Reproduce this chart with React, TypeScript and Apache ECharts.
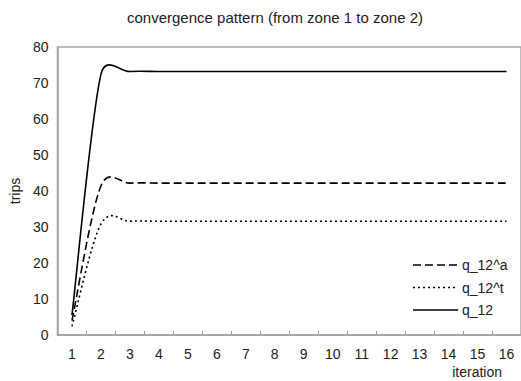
import React, { useEffect, useRef } from "react";
import * as echarts from "echarts";

const iterations = ["1","2","3","4","5","6","7","8","9","10","11","12","13","14","15","16"];
const qA = [4.0, 41.4, 42.2, 42.2, 42.2, 42.2, 42.2, 42.2, 42.2, 42.2, 42.2, 42.2, 42.2, 42.2, 42.2, 42.2];
const qT = [2.4, 30.8, 31.6, 31.6, 31.6, 31.6, 31.6, 31.6, 31.6, 31.6, 31.6, 31.6, 31.6, 31.6, 31.6, 31.6];
const q = [5.5, 72.4, 73.2, 73.2, 73.2, 73.2, 73.2, 73.2, 73.2, 73.2, 73.2, 73.2, 73.2, 73.2, 73.2, 73.2];
const seriesNames = ["q_12^a", "q_12^t", "q_12"];
const yTicks = { min: 0, max: 80, interval: 10 };

const FONT = "Liberation Sans";

// Excel-like smoothed path through points (Bezier, tangent limited by segment length)
function smoothPath(pts: number[][]): string {
  const n = pts.length;
  const tangent = (i: number) => {
    const p0 = pts[Math.max(0, i - 1)];
    const p2 = pts[Math.min(n - 1, i + 1)];
    return [p2[0] - p0[0], p2[1] - p0[1]];
  };
  let d = `M${pts[0][0]},${pts[0][1]}`;
  for (let i = 0; i < n - 1; i++) {
    const a = pts[i];
    const b = pts[i + 1];
    const seg = Math.hypot(b[0] - a[0], b[1] - a[1]);
    const ta = tangent(i);
    const tb = tangent(i + 1);
    const la = Math.hypot(ta[0], ta[1]) || 1;
    const lb = Math.hypot(tb[0], tb[1]) || 1;
    const fa = Math.min(1 / 6, (0.7 * seg) / la);
    const fb = Math.min(1 / 6, (0.7 * seg) / lb);
    const c1 = [a[0] + ta[0] * fa, a[1] + ta[1] * fa];
    const c2 = [b[0] - tb[0] * fb, b[1] - tb[1] * fb];
    d += ` C${c1[0]},${c1[1]} ${c2[0]},${c2[1]} ${b[0]},${b[1]}`;
  }
  return d;
}

function makeSeries(name: string, values: number[], dash: number[] | null) {
  return {
    name,
    type: "custom",
    coordinateSystem: "cartesian2d",
    data: values.map((v, i) => [i, v]),
    encode: { x: 0, y: 1 },
    clip: false,
    renderItem: (params: any, api: any) => {
      if (params.dataIndex !== 0) return null;
      const pts = values.map((v, i) => api.coord([i, v]));
      return {
        type: "path",
        shape: { pathData: smoothPath(pts) },
        style: {
          fill: "none",
          stroke: "#000",
          lineWidth: 1.6,
          lineDash: dash || undefined,
        },
      };
    },
  };
}

const legendStyles: (number[] | null)[] = [[8, 4], [2, 3], null];

export default function App() {
  const ref = useRef<HTMLDivElement>(null);
  useEffect(() => {
    if (!ref.current) return;
    const chart = echarts.init(ref.current, null, { renderer: "svg" });
    const legendGraphics: any[] = [];
    seriesNames.forEach((nm, k) => {
      const y = 265 + k * 22.5;
      legendGraphics.push({
        type: "line",
        shape: { x1: 413, y1: y, x2: 458, y2: y },
        style: { stroke: "#000", lineWidth: 1.6, lineDash: legendStyles[k] || undefined },
      });
      legendGraphics.push({
        type: "text",
        x: 462,
        y: y,
        style: { text: nm, fontFamily: FONT, fontSize: 14, fill: "#222", verticalAlign: "middle" },
      });
    });
    chart.setOption({
      animation: false,
      backgroundColor: "#ffffff",
      textStyle: { fontFamily: FONT },
      title: {
        text: "convergence pattern (from zone 1 to zone 2)",
        left: 270,
        textAlign: "center",
        top: 5,
        textStyle: { fontFamily: FONT, fontSize: 15, fontWeight: "normal", color: "#222" },
      },
      grid: {
        left: 52,
        top: 47,
        bottom: 46,
        right: -4,
        show: true,
        borderColor: "#a8a8a8",
        borderWidth: 1.5,
        containLabel: false,
      },
      xAxis: {
        type: "category",
        data: iterations,
        boundaryGap: true,
        axisLine: { lineStyle: { color: "#a0a0a0", width: 1.5 } },
        axisTick: { show: true, inside: true, lineStyle: { color: "#a0a0a0" }, length: 4 },
        axisLabel: { fontFamily: FONT, fontSize: 14, color: "#222", margin: 12 },
        splitLine: { show: false },
      },
      yAxis: {
        type: "value",
        min: yTicks.min,
        max: yTicks.max,
        interval: yTicks.interval,
        name: "trips",
        nameLocation: "middle",
        nameGap: 31,
        nameTextStyle: { fontFamily: FONT, fontSize: 14, color: "#222" },
        axisLine: { show: true, lineStyle: { color: "#a0a0a0", width: 1.5 } },
        axisTick: { show: false },
        axisLabel: { fontFamily: FONT, fontSize: 14, color: "#222", margin: 9 },
        splitLine: { show: false },
      },
      graphic: [
        {
          type: "text",
          right: 19,
          top: 365,
          style: { text: "iteration", fontFamily: FONT, fontSize: 14, fill: "#222" },
        },
        ...legendGraphics,
      ],
      series: [
        makeSeries(seriesNames[0], qA, [8, 4]),
        makeSeries(seriesNames[1], qT, [2, 3]),
        makeSeries(seriesNames[2], q, null),
      ],
    });
    return () => chart.dispose();
  }, []);
  return <div ref={ref} style={{ width: 521, height: 381, position: "absolute", left: 0, top: 0 }} />;
}
